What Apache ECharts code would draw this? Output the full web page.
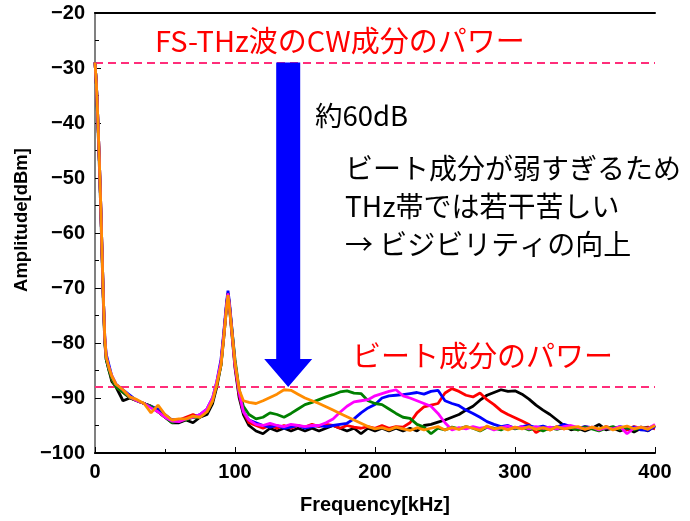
<!DOCTYPE html>
<html>
<head>
<meta charset="utf-8">
<script src="https://cdn.jsdelivr.net/npm/echarts@6/dist/echarts.min.js"></script>
<style>
  html, body { margin: 0; padding: 0; background: #fff; }
  #chart { width: 690px; height: 521px; }
</style>
</head>
<body>
<div id="chart"></div>
<script>
// Frequency grid [kHz]: fine steps around the carrier and the 95 kHz line, then 5 kHz steps
const freq = [0,1,2,3,4,5,6,7,8,10,12,15,20,25,30,35,40,45,50,55,60,65,70,75,80,84,87,90,92,94,95,96,98,100,103,106,110,
  115,120,125,130,135,140,145,150,155,160,165,170,175,180,185,190,195,200,205,210,215,220,225,230,235,240,245,250,
  255,260,265,270,275,280,285,290,295,300,305,310,315,320,325,330,335,340,345,350,355,360,365,370,375,380,385,390,395,400];

// Measured spectra [dBm]
const traceBlack = [-29,-33,-40,-47,-55,-64,-73,-80,-83,-85,-87,-88,-90.5,-90,-90.5,-91,-91.5,-92.5,-93.5,-94.5,-94.5,-94,-94.5,-93.5,-93,-91,-88,-84,-79,-73.5,-71,-73.5,-79,-84.5,-90,-93,-95,
  -96,-96.5,-95.5,-96,-95.5,-96,-95.5,-96,-95.5,-96,-95.5,-95,-95.5,-96,-95.5,-96.5,-95.5,-96,-95.5,-96,-95.5,-96,-95.5,-96,-95,-94.8,-94.4,-94,
  -93.5,-93,-92.2,-91.5,-90.4,-89.5,-89,-88.5,-88.8,-88.7,-89.3,-90.2,-91.3,-92.2,-93,-94,-95,-95.8,-95.5,-96,-95.5,-94.8,-95.8,-95.5,-96,-95.5,-96.2,-95.5,-96,-95];
const traceRed = [-29,-33,-39,-46,-54,-63,-72,-79.5,-82.5,-84.5,-86.5,-88,-89,-90,-90.5,-91,-91.5,-92.5,-93.5,-94,-94,-93.5,-93,-93.5,-92.5,-90.5,-87.5,-83.5,-78.5,-73,-71,-73,-78.5,-84,-89.5,-92.5,-94.5,
  -95,-95.5,-95,-95.5,-95,-95.5,-95,-95.3,-94.8,-95.2,-94.8,-95,-95.5,-95,-95.3,-95.5,-95.2,-95.5,-95,-95.5,-95.2,-95.3,-94.5,-92.7,-91.6,-91.3,-91,-89.1,
  -88.3,-88.8,-89.5,-89.8,-89.1,-90.3,-91.2,-92.3,-93,-93.6,-94.2,-94.8,-96.3,-95.5,-95.8,-95.2,-95.6,-95.3,-95.8,-95.2,-95.5,-95.8,-95.2,-95.5,-95.3,-95.8,-95.2,-95.5,-95.3,-95.6];
const traceBlue = [-29,-33,-39,-46,-54,-63,-72,-79,-82,-84,-86,-87.5,-88.5,-89.5,-90.5,-91,-91.5,-92,-93,-94,-94,-93.8,-93.5,-93,-92,-90,-87,-83,-78,-72.5,-70.5,-72.5,-78,-83.5,-89,-92.5,-94,
  -94.5,-95,-95.3,-95,-95.5,-95.3,-95,-95.5,-95.2,-95,-95.2,-95,-94.8,-94.6,-93.8,-92.7,-91.8,-91.2,-90,-89.6,-89.5,-89.4,-89.2,-89,-89.3,-88.8,-88.6,-90.5,
  -91,-91.4,-92.2,-92.8,-93.5,-94.3,-94.8,-95.2,-95,-95.5,-95.2,-95,-95.4,-95.1,-95.5,-95.3,-94.8,-95.2,-95.5,-95.2,-95.4,-95.8,-95.3,-95.6,-95.2,-95.5,-95.3,-95.8,-95.9,-95.2];
const traceGreen = [-29,-33,-39,-46,-54,-63,-72,-79.5,-83,-85,-86.5,-88,-89,-90,-90.5,-91,-91.5,-92.5,-93.5,-94.5,-94,-94,-93.5,-93.5,-92.5,-90.5,-87.5,-84,-78.5,-73,-71,-73,-78,-83,-88.5,-91.5,-93,
  -93.8,-93.5,-92.7,-93,-93.5,-92.8,-92,-91.2,-90.8,-90.3,-89.8,-89.4,-88.9,-88.7,-89.1,-89.2,-90.5,-91,-91.2,-92,-92.8,-93.5,-93.7,-94.8,-95.3,-96.5,-95.5,-95.8,
  -95.3,-95.6,-95.2,-95.5,-96,-95.3,-95.5,-95.8,-95.2,-95.6,-95.3,-95.8,-95.5,-96,-95.4,-95.7,-95.3,-95.5,-95.8,-95.3,-95.6,-96,-95.5,-95.2,-95.7,-95.4,-95.8,-95.3,-95.5,-95];
const traceMagenta = [-29,-33,-39,-46,-54,-63,-72,-79,-82.5,-84.5,-86,-87.5,-88.5,-89.8,-90.5,-91,-91.8,-92.5,-93.5,-94.2,-94.3,-93.8,-93.5,-93,-92,-90,-87,-83.5,-78.5,-73,-71,-73,-78.5,-84,-89,-92.5,-94,
  -94.8,-95,-94.6,-95,-95.2,-94.8,-95,-95.2,-95,-95,-94.5,-93.8,-92.6,-91.5,-90.7,-90.5,-90.3,-89.6,-89.2,-88.8,-88.5,-89.6,-90,-90.5,-91,-91.5,-92.8,-94.5,
  -95.8,-95.4,-95.6,-95.2,-95.5,-95.3,-95.8,-95.4,-95.1,-95.5,-95.2,-95.6,-95.2,-95.5,-95.3,-95.6,-95.2,-95,-95.4,-95.6,-95.3,-95.8,-95.4,-95.6,-95.2,-96.5,-95.5,-95.3,-95.6,-94.8];
const traceOrange = [-29,-33,-39,-46,-54,-63,-72,-79,-82.5,-84.5,-86,-87.5,-88.5,-89.8,-90.3,-91,-92.7,-91.3,-93,-94,-93.8,-93.8,-93.3,-93.5,-92.5,-90.5,-87.5,-84,-79,-73.5,-71.3,-73.5,-78.5,-83.5,-88.5,-90.5,-90.8,
  -91,-90.5,-89.9,-89.3,-88.5,-88.6,-89.3,-90,-90.5,-91,-91.6,-92.2,-92.8,-93.4,-94,-94.6,-95.2,-95.6,-95.4,-95.8,-95.3,-95.6,-95.9,-95.4,-95.8,-95.5,-95.2,-95.8,
  -95.4,-95.7,-95.2,-95.5,-95.9,-95.1,-95.6,-95.4,-95.8,-95.3,-95.6,-95.2,-95.7,-95.4,-95.8,-95.2,-95.6,-95.4,-95.2,-95.7,-95.3,-95.6,-95.2,-95.8,-95.4,-95.1,-95.6,-95.3,-95.7,-95];

// Reference power levels [dBm]
const cwLevel = -29;
const beatLevel = -88;
// Arrow marking the ~60 dB gap
const gapArrow = [[138, cwLevel, beatLevel]];

const traces = [
  { data: traceBlack, color: '#000000' },
  { data: traceRed, color: '#ff0000' },
  { data: traceBlue, color: '#0000ff' },
  { data: traceGreen, color: '#008000' },
  { data: traceMagenta, color: '#ff00ff' },
  { data: traceOrange, color: '#ff8c00' }
];

const jpFont = '"Noto Sans CJK JP", sans-serif';
const numFont = '"Liberation Sans", Arial, sans-serif';

const series = traces.map((t, i) => ({
  type: 'line',
  data: freq.map((f, k) => [f, t.data[k]]),
  showSymbol: false,
  symbol: 'none',
  lineStyle: { color: t.color, width: 2.8 },
  itemStyle: { color: t.color },
  z: 3 + i,
  animation: false
}));

// Dashed level lines
series.push({
  type: 'line',
  data: [],
  markLine: {
    silent: true,
    symbol: 'none',
    label: { show: false },
    lineStyle: { color: '#ff2d7a', width: 2, type: [8, 5] },
    data: [{ yAxis: cwLevel }, { yAxis: beatLevel }]
  },
  z: 2,
  animation: false
});

// Blue downward arrow between the two levels
series.push({
  type: 'custom',
  data: gapArrow,
  z: 10,
  renderItem: function (params, api) {
    const top = api.coord([api.value(0), api.value(1)]);
    const tip = api.coord([api.value(0), api.value(2)]);
    const x = tip[0];
    const shaft = 12, head = 24, headH = 28;
    const neck = tip[1] - headH;
    return {
      type: 'polygon',
      shape: {
        points: [
          [x - shaft, top[1]], [x + shaft, top[1]], [x + shaft, neck],
          [x + head, neck], [x, tip[1]], [x - head, neck], [x - shaft, neck]
        ]
      },
      style: { fill: '#0000ff' }
    };
  },
  animation: false
});

const chart = echarts.init(document.getElementById('chart'), null, { renderer: 'canvas' });
chart.setOption({
  animation: false,
  backgroundColor: '#ffffff',
  grid: { left: 95, right: 35, top: 13, bottom: 68 },
  xAxis: [{
    type: 'value', min: 0, max: 400, interval: 100,
    name: 'Frequency[kHz]', nameLocation: 'middle', nameGap: 42,
    nameTextStyle: { fontFamily: numFont, fontWeight: 'bold', fontSize: 20, color: '#000' },
    axisLine: { show: true, lineStyle: { color: '#000', width: 2 } },
    axisTick: { show: true, inside: true, length: 6, lineStyle: { color: '#000', width: 1 } },
    minorTick: { show: true, splitNumber: 2, length: 4, lineStyle: { color: '#000', width: 1 } },
    axisLabel: { fontFamily: numFont, fontWeight: 'bold', fontSize: 20, color: '#000', margin: 9 },
    splitLine: { show: false }
  }, {
    type: 'value', min: 0, max: 400, position: 'top',
    axisLine: { show: true, lineStyle: { color: '#000', width: 2 } },
    axisTick: { show: false }, axisLabel: { show: false }, splitLine: { show: false }
  }],
  yAxis: [{
    type: 'value', min: -100, max: -20, interval: 10,
    axisLine: { show: true, lineStyle: { color: '#000', width: 2 } },
    axisTick: { show: true, inside: true, length: 6, lineStyle: { color: '#000', width: 1 } },
    minorTick: { show: true, splitNumber: 2, length: 4, lineStyle: { color: '#000', width: 1 } },
    axisLabel: {
      fontFamily: numFont, fontWeight: 'bold', fontSize: 20, color: '#000', margin: 10,
      formatter: v => String(v).replace('-', '\u2212')
    },
    splitLine: { show: false }
  }, {
    type: 'value', min: -100, max: -20, position: 'right',
    axisLine: { show: true, lineStyle: { color: '#808080', width: 2 } },
    axisTick: { show: false }, axisLabel: { show: false }, splitLine: { show: false }
  }],
  series: series,
  graphic: [
    // Y axis title, rotated
    { type: 'text', x: 22, y: 220, rotation: Math.PI / 2, z: 20,
      style: { text: 'Amplitude[dBm]', fill: '#000', font: 'bold 18.5px ' + numFont,
               align: 'center', verticalAlign: 'middle' } },
    { type: 'text', left: 155, top: 26, z: 20,
      style: { text: 'FS-THz波のCW成分のパワー', fill: '#ff0000', font: '29px ' + jpFont } },
    { type: 'text', left: 352, top: 341, z: 20,
      style: { text: 'ビート成分のパワー', fill: '#ff0000', font: '29px ' + jpFont } },
    { type: 'text', left: 315, top: 102, z: 20,
      style: { text: '約60dB', fill: '#000', font: '27.5px ' + jpFont } },
    { type: 'text', left: 345, top: 149, z: 20,
      style: { text: 'ビート成分が弱すぎるため\nTHz帯では若干苦しい\n→ ビジビリティの向上', fill: '#000', font: '28px ' + jpFont, lineHeight: 38 } }
  ]
});
</script>
</body>
</html>
